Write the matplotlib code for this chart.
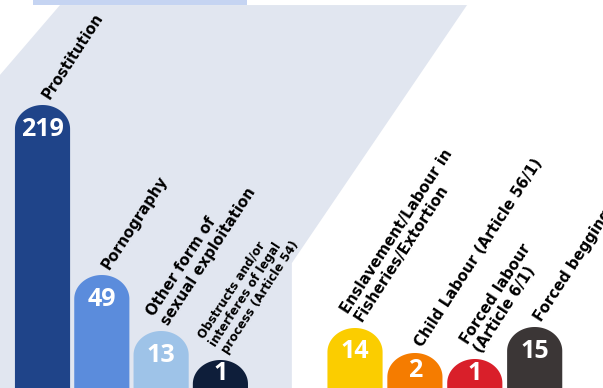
import matplotlib.pyplot as plt
import numpy as np
from matplotlib.patches import Polygon, Rectangle

# categories (label text as shown in the infographic)
categories = [
    "Prostitution",
    "Pornography",
    "Other form of\nsexual exploitation",
    "Obstructs and/or\ninterferes of legal\nprocess (Article 54)",
    "Enslavement/Labour in\nFisheries/Extortion",
    "Child Labour (Article 56/1)",
    "Forced labour\n(Article 6/1)",
    "Forced begging",
]
values = [219, 49, 13, 1, 14, 2, 1, 15]
# the infographic is not drawn to scale: drawn bar heights
bar_heights = [283, 113, 57, 28, 60, 35, 29, 61]
colors = ["#1f4489", "#5b8cdc", "#9ec3e8", "#0e1e3a",
          "#fbcd00", "#f57c00", "#d91f2a", "#3b3636"]
label_sizes = [10.5, 10.7, 10.7, 8.6, 10.7, 10.7, 10.7, 10.7]

fig = plt.figure(figsize=(6.03, 3.88), dpi=100)
ax = fig.add_axes([0, 0, 1, 1])
ax.set_xlim(-0.717, 9.452)
ax.set_ylim(0, 388)
ax.axis("off")

# background panel and the strip at the top
ax.add_patch(Polygon([(0.0995, 0.987), (0.7745, 0.987), (0.484, 0.322),
                      (0.484, 0), (0, 0), (0, 0.807)],
                     closed=True, transform=ax.transAxes,
                     facecolor="#e1e6f0", edgecolor="none", zorder=0))
ax.add_patch(Rectangle((0.0547, 0.987), 0.355, 0.02, transform=ax.transAxes,
                       facecolor="#c5d4f2", edgecolor="none", zorder=0))

x = np.concatenate([np.arange(4), 5.27 + 1.01 * np.arange(4)])
width = 0.93
ry = 24


def dome_bar(xc, h, color):
    t = np.linspace(0, np.pi, 80)
    cy = max(h - ry, 0)
    xs = xc + width / 2 * np.cos(t)
    ys = cy + (h - cy) * np.sin(t)
    verts = [(xc - width / 2, -5), (xc + width / 2, -5)] + list(zip(xs, ys))
    ax.add_patch(Polygon(verts, closed=True, facecolor=color,
                         edgecolor="none", zorder=2))


for xc, h, v, c, lab, fs in zip(x, bar_heights, values, colors,
                                 categories, label_sizes):
    dome_bar(xc, h, c)
    ax.text(xc, max(h - 24, h * 0.5), str(v), color="white",
            family="Open Sans", fontsize=18, fontweight="bold",
            ha="center", va="center", zorder=3)
    ax.text(xc + 0.16, h + 3.5, lab, rotation=57, rotation_mode="anchor",
            ha="left", va="bottom", fontsize=fs, fontweight="bold",
            linespacing=1.1, color="black", zorder=3)

fig.savefig("out.png", dpi=100)
